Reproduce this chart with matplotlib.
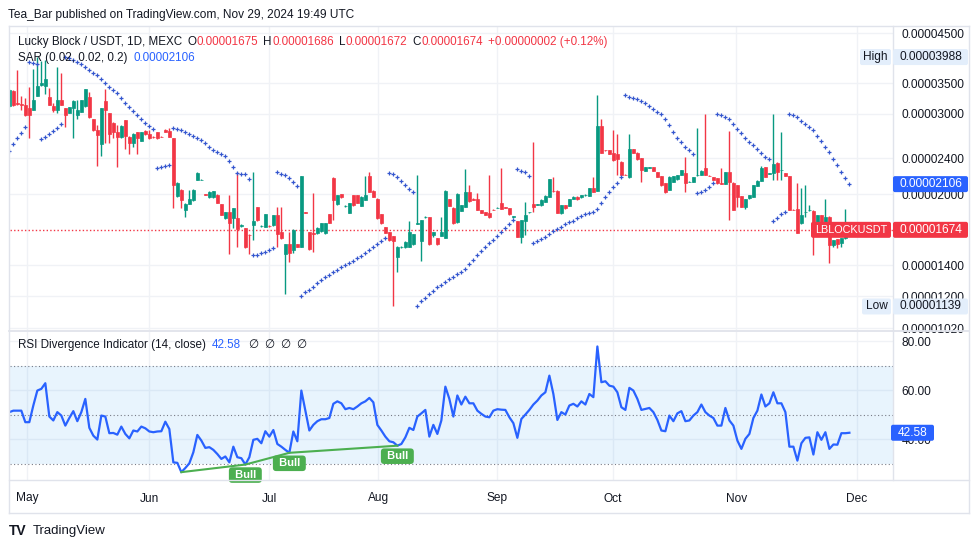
import numpy as np
import matplotlib
matplotlib.use("Agg")
import matplotlib.pyplot as plt
from matplotlib.patches import FancyBboxPatch
from matplotlib.lines import Line2D
from matplotlib.transforms import IdentityTransform
from matplotlib.ticker import NullLocator, NullFormatter

plt.rcParams['font.family'] = ['Liberation Sans', 'DejaVu Sans']

# ---------------- data (prices in micro-USDT, i.e. x 1e-6) ----------------
open_ = [
    31.2, 33.7, 31.6, 31.5, 31.4, 30.8, 30.56, 32.8, 34.6, 34.5,
    32.6, 31.2, 30.6, 32.1, 30.8, 30.15, 30.9, 29.8, 30.3, 31.2,
    32.7, 29.2, 27.7, 25.8, 32.0, 30.05, 28.7, 27.4, 26.7, 29.06,
    26.7, 25.85, 27.3, 26.2, 27.5, 27.1, 26.75, 27.3, 26.75, 27.7,
    27.5, 26.5, 19.8, 20.45, 18.5, 19.1, 19.4, 21.5, 21.5, 20.0,
    19.77, 19.7, 19.95, 19.05, 17.73, 18.33, 17.73, 17.73, 17.1, 16.86,
    16.35, 17.14, 18.8, 17.05, 17.0, 17.1, 17.15, 18.03, 16.58, 14.82,
    15.59, 15.12, 15.59, 15.38, 18.3, 16.52, 16.44, 16.44, 16.66, 16.44,
    18.12, 21.74, 19.03, 20.04, 18.85, 18.25, 19.93, 19.93, 18.9, 19.44,
    21.93, 20.34, 19.54, 18.12, 17.0, 16.58, 16.22, 14.58, 15.35, 15.33,
    15.36, 15.59, 17.25, 15.85, 17.85, 17.82, 16.3, 16.03, 16.25, 16.1,
    19.5, 18.7, 17.38, 18.43, 18.8, 20.2, 19.53, 19.54, 18.49, 18.33,
    18.18, 18.52, 18.68, 19.18, 18.74, 18.7, 17.85, 17.5, 16.17, 17.52,
    18.3, 19.05, 19.0, 18.96, 19.28, 19.77, 20.36, 20.34, 18.18, 18.96,
    18.9, 19.51, 19.77, 19.7, 19.9, 19.84, 20.62, 20.37, 28.2, 25.0,
    25.0, 24.66, 24.45, 23.57, 22.1, 21.79, 25.08, 24.66, 23.97, 22.54,
    22.88, 22.92, 22.35, 21.93, 21.14, 20.44, 21.32, 21.57, 22.05, 22.3,
    21.28, 21.32, 22.0, 22.05, 22.8, 21.97, 21.79, 21.68, 21.16, 21.07,
    22.35, 21.21, 20.96, 19.84, 18.8, 19.6, 19.77, 20.86, 21.43, 22.92,
    22.2, 22.23, 23.46, 22.58, 22.3, 21.93, 18.52, 18.55, 17.29, 18.3,
    18.46, 18.43, 17.29, 18.03, 17.29, 17.88, 15.51, 15.98, 15.64, 16.03,
    16.75]

high_ = [
    33.9, 33.8, 37.4, 32.8, 32.4, 34.3, 37.5, 39.88, 39.0, 39.3,
    34.1, 31.6, 38.0, 36.9, 30.8, 31.1, 32.1, 32.1, 32.2, 34.0,
    33.5, 29.2, 28.3, 30.8, 33.9, 30.1, 28.8, 28.3, 28.3, 29.1,
    26.8, 27.2, 27.3, 27.35, 27.6, 27.6, 26.8, 27.3, 26.8, 27.75,
    27.9, 26.5, 21.25, 20.5, 19.12, 20.44, 20.5, 22.35, 21.6, 20.05,
    20.3, 20.35, 20.0, 19.1, 18.35, 19.95, 18.7, 22.42, 17.2, 16.9,
    16.4, 22.42, 18.8, 17.15, 18.1, 17.15, 18.05, 18.8, 18.8, 15.6,
    16.58, 16.78, 15.6, 21.95, 18.35, 16.55, 20.11, 16.95, 17.3, 17.35,
    18.15, 21.85, 19.95, 20.05, 18.95, 19.15, 19.95, 19.95, 19.8, 21.93,
    22.42, 20.4, 19.6, 18.15, 17.0, 16.6, 16.25, 15.4, 15.42, 15.8,
    17.52, 16.4, 22.05, 17.6, 17.9, 17.85, 16.55, 16.05, 17.88, 20.4,
    19.55, 18.75, 20.1, 19.0, 22.68, 20.96, 19.6, 20.11, 18.5, 18.35,
    22.05, 18.55, 18.75, 22.8, 18.78, 18.72, 17.95, 17.52, 17.6, 19.28,
    18.35, 26.06, 19.05, 19.5, 19.9, 21.65, 21.86, 20.4, 19.0, 19.0,
    19.58, 19.8, 19.8, 19.95, 20.0, 20.65, 21.86, 32.95, 29.16, 25.05,
    25.05, 27.64, 27.1, 23.6, 22.15, 27.1, 25.1, 24.7, 24.0, 22.95,
    22.95, 22.95, 22.4, 21.95, 21.15, 21.9, 21.95, 22.1, 22.65, 24.09,
    21.35, 21.8, 27.87, 22.56, 29.95, 22.0, 21.8, 21.7, 22.8, 22.4,
    27.5, 21.25, 21.0, 19.86, 19.55, 19.95, 21.0, 21.45, 23.07, 22.95,
    22.25, 29.95, 23.48, 27.41, 22.32, 21.95, 18.55, 21.21, 20.62, 20.96,
    18.96, 18.45, 18.05, 18.05, 19.5, 17.9, 15.92, 16.0, 16.05, 18.55,
    16.86]

low_ = [
    31.1, 31.2, 31.4, 30.6, 29.6, 26.5, 30.5, 32.8, 34.5, 33.2,
    31.4, 30.2, 30.05, 31.3, 28.1, 30.1, 26.6, 29.2, 30.2, 31.1,
    29.4, 27.5, 23.1, 24.2, 25.85, 25.9, 26.5, 22.9, 26.6, 25.1,
    24.45, 25.4, 24.5, 26.1, 27.0, 26.45, 26.6, 26.4, 26.65, 27.35,
    26.65, 18.65, 19.75, 18.65, 17.88, 19.1, 19.35, 21.45, 21.45, 19.9,
    19.6, 19.65, 19.15, 18.0, 17.64, 14.82, 16.86, 15.38, 17.0, 15.25,
    14.82, 15.9, 17.52, 17.0, 17.0, 17.0, 17.1, 15.38, 15.95, 12.11,
    14.26, 14.87, 15.33, 15.35, 18.2, 15.12, 14.99, 16.4, 16.6, 16.4,
    17.29, 17.58, 19.0, 19.6, 18.8, 18.2, 18.9, 19.15, 18.85, 19.4,
    20.25, 19.7, 17.7, 17.25, 16.44, 15.85, 11.39, 13.56, 15.3, 15.3,
    15.33, 15.55, 17.2, 14.33, 17.8, 15.5, 16.17, 15.5, 16.2, 16.05,
    18.85, 17.25, 17.35, 18.4, 18.75, 19.3, 19.45, 18.45, 18.2, 18.0,
    17.8, 18.45, 18.65, 18.55, 18.68, 18.05, 17.8, 16.15, 15.69, 16.3,
    18.25, 18.33, 18.95, 18.9, 19.25, 19.75, 20.28, 18.2, 18.15, 18.6,
    18.85, 19.5, 19.48, 19.68, 19.85, 19.8, 20.25, 20.34, 24.6, 24.9,
    24.45, 23.7, 22.05, 22.0, 22.0, 21.75, 24.6, 23.8, 21.32, 22.5,
    22.85, 22.5, 21.8, 20.9, 20.18, 20.4, 21.3, 21.55, 22.0, 20.28,
    21.25, 21.3, 21.95, 22.0, 22.0, 21.9, 21.45, 21.1, 21.07, 21.05,
    17.58, 18.45, 18.8, 18.75, 18.55, 19.58, 19.75, 20.84, 21.4, 21.84,
    22.15, 21.5, 21.5, 21.5, 21.9, 18.45, 18.45, 16.45, 17.25, 17.88,
    18.4, 14.74, 17.25, 17.25, 17.25, 14.14, 15.33, 15.25, 15.33, 15.95,
    16.72]

close_ = [
    33.8, 31.3, 31.5, 31.35, 29.8, 29.8, 32.2, 34.5, 35.0, 35.8,
    31.4, 30.6, 32.1, 31.3, 29.8, 31.07, 31.9, 30.6, 32.1, 33.9,
    29.45, 27.6, 26.95, 30.8, 30.5, 27.1, 27.4, 26.7, 28.2, 26.8,
    25.85, 27.1, 26.5, 27.3, 27.1, 26.5, 26.7, 26.5, 26.7, 27.4,
    26.7, 20.95, 21.2, 19.44, 19.05, 19.5, 20.44, 22.3, 21.55, 19.95,
    20.2, 20.3, 19.2, 18.03, 18.33, 17.29, 18.65, 16.78, 17.15, 15.33,
    16.3, 17.5, 17.58, 17.1, 18.1, 17.05, 18.03, 16.4, 16.03, 15.59,
    14.87, 16.72, 15.38, 21.93, 18.25, 15.17, 16.38, 16.92, 17.29, 17.29,
    17.35, 19.44, 19.93, 19.7, 18.9, 19.12, 18.96, 19.2, 19.77, 19.93,
    20.28, 19.77, 17.73, 17.29, 16.5, 15.9, 15.85, 15.38, 15.38, 15.77,
    16.58, 16.38, 17.29, 17.58, 17.88, 15.56, 16.52, 15.56, 16.52, 20.34,
    18.9, 17.29, 20.04, 18.96, 20.28, 19.38, 19.48, 18.49, 18.24, 18.03,
    17.82, 18.49, 18.72, 18.58, 18.7, 18.09, 17.9, 16.17, 17.58, 18.03,
    18.33, 18.8, 19.03, 19.44, 19.84, 21.61, 20.3, 18.24, 18.96, 18.65,
    19.54, 19.77, 19.51, 19.93, 19.95, 20.62, 20.28, 28.2, 24.66, 24.95,
    24.5, 23.77, 23.85, 22.05, 22.05, 25.08, 24.66, 23.85, 22.61, 22.92,
    22.92, 22.54, 21.86, 20.96, 20.28, 21.86, 21.93, 22.05, 22.61, 21.21,
    21.32, 21.79, 22.05, 22.54, 22.05, 21.93, 21.5, 21.14, 21.12, 22.35,
    21.32, 18.49, 19.77, 18.8, 19.51, 19.93, 20.96, 21.43, 22.8, 21.86,
    22.23, 23.26, 22.42, 22.61, 21.93, 18.49, 18.49, 16.5, 18.03, 18.33,
    18.49, 17.29, 18.03, 17.29, 17.88, 15.51, 15.9, 15.59, 16.03, 16.75,
    16.74]

sar_ = [
    24.9, 25.8, 26.5, 27.2, 28.05, 38.9, 38.7, 38.5, 26.45, 26.66,
    27.1, 27.45, 27.9, 28.5, 39.88, 39.6, 39.29, 38.95, 38.5, 38.0,
    37.36, 36.75, 36.43, 35.66, 34.95, 34.36, 33.79, 33.23, 32.42, 31.73,
    31.0, 30.4, 29.8, 29.16, 28.67, 28.2, 27.74, 22.8, 22.9, 23.06,
    23.14, 27.95, 27.74, 27.64, 27.4, 27.1, 26.8, 26.5, 26.28, 25.85,
    25.4, 25.0, 24.8, 24.5, 24.25, 23.7, 23.0, 22.3, 22.2, 22.2,
    21.58, 14.75, 14.75, 14.87, 15.0, 15.12, 15.25, 22.35, 22.2, 22.1,
    21.7, 21.3, 20.9, 12.02, 12.23, 12.4, 12.57, 12.79, 13.01, 13.2,
    13.34, 13.52, 13.68, 13.86, 14.02, 14.19, 14.33, 14.5, 14.67, 14.87,
    15.12, 15.33, 15.59, 15.82, 16.1, 22.3, 22.2, 21.8, 21.42, 20.96,
    20.6, 20.26, 11.43, 11.7, 11.9, 12.1, 12.33, 12.57, 12.68, 12.87,
    13.05, 13.2, 13.39, 13.56, 13.72, 14.07, 14.38, 14.75, 15.07, 15.38,
    15.64, 15.9, 16.23, 16.53, 16.86, 17.21, 17.58, 22.7, 22.52, 22.35,
    21.98, 15.64, 15.82, 15.98, 16.17, 16.39, 16.66, 16.83, 17.0, 17.21,
    17.38, 17.52, 17.73, 17.94, 18.12, 18.24, 18.33, 18.55, 19.11, 19.7,
    20.25, 20.72, 21.22, 21.8, 32.95, 32.68, 32.5, 32.25, 31.9, 31.6,
    31.25, 30.7, 30.3, 29.9, 29.16, 28.3, 27.4, 26.6, 26.0, 25.44,
    25.0, 24.45, 20.1, 20.28, 20.44, 20.72, 21.14, 29.94, 29.74, 29.45,
    29.16, 28.45, 27.74, 27.2, 26.6, 26.07, 25.6, 25.08, 24.58, 24.17,
    23.86, 17.52, 17.78, 18.12, 18.33, 29.94, 29.74, 29.45, 28.95, 28.45,
    28.05, 27.6, 26.8, 26.15, 25.35, 24.73, 23.9, 23.18, 22.35, 21.77,
    21.06]

rsi_ = [
    51.0, 51.6, 51.6, 51.6, 46.9, 46.9, 53.7, 59.8, 60.5, 62.8,
    49.2, 47.6, 51.0, 49.6, 45.5, 48.6, 51.4, 47.3, 51.0, 56.4,
    44.6, 41.4, 39.8, 49.6, 49.2, 42.4, 42.5, 41.8, 45.1, 42.1,
    40.3, 43.5, 43.1, 45.1, 44.4, 43.1, 42.8, 43.1, 43.2, 47.1,
    44.1, 30.5, 30.3, 26.5, 28.2, 30.1, 34.6, 41.7, 39.4, 36.4,
    36.7, 35.6, 33.9, 31.9, 32.9, 30.5, 36.9, 32.6, 32.2, 29.6,
    32.6, 39.7, 40.1, 38.3, 43.2, 41.0, 43.7, 38.0, 36.9, 35.6,
    34.4, 43.1, 39.1, 59.8, 51.6, 43.5, 45.8, 47.3, 48.1, 48.1,
    48.6, 54.4, 55.4, 54.6, 52.2, 52.7, 52.2, 53.3, 54.6, 55.4,
    56.8, 55.0, 45.8, 43.5, 41.0, 39.1, 38.7, 37.3, 38.0, 40.7,
    44.6, 43.7, 49.2, 50.5, 51.9, 41.0, 45.8, 42.1, 47.6, 61.4,
    56.4, 49.2, 57.8, 54.1, 57.3, 54.6, 54.6, 51.6, 50.3, 49.2,
    48.9, 51.6, 52.2, 52.0, 51.9, 48.9, 46.5, 40.5, 48.2, 50.0,
    51.9, 54.1, 55.7, 57.8, 59.1, 65.9, 58.4, 47.8, 51.0, 50.0,
    53.7, 54.4, 53.3, 55.4, 54.1, 58.4, 57.1, 77.8, 63.2, 63.6,
    61.8, 61.4, 59.1, 53.0, 51.9, 60.9, 59.8, 56.4, 51.9, 52.3,
    52.7, 51.0, 47.8, 43.5, 43.2, 49.6, 47.3, 50.5, 51.4, 47.3,
    47.6, 49.6, 51.0, 54.1, 51.0, 49.6, 48.6, 45.5, 45.5, 52.7,
    47.6, 45.5, 39.4, 36.0, 40.1, 42.1, 48.6, 51.6, 58.2, 53.3,
    54.6, 59.1, 54.6, 54.6, 51.0, 36.9, 36.9, 31.2, 38.3, 40.5,
    40.7, 33.7, 42.8, 39.7, 42.8, 36.0, 37.8, 37.7, 42.4, 42.4,
    42.58]

div_pivots = [43, 59, 70, 97]          # bar indices of RSI bullish-divergence pivots
month_labels = ['May', 'Jun', 'Jul', 'Aug', 'Sep', 'Oct', 'Nov', 'Dec']
price_ticks = [45.0, 35.0, 30.0, 24.0, 20.0, 14.0, 12.0, 10.2]
rsi_ticks = [80, 60, 40]
last_close = 16.74
last_sar = 21.06
last_rsi = 42.58
period_high = 39.88
period_low = 11.39
hdr_o, hdr_h, hdr_l, hdr_c = '0.00001675', '0.00001686', '0.00001672', '0.00001674'
hdr_chg = '+0.00000002 (+0.12%)'

# ---------------- layout / style ----------------
month_pos = [4.4, 34.9, 64.9, 92.2, 121.9, 150.9, 181.7, 211.9]
W, H = 980, 549
UP, DN = '#089981', '#F23645'
BLUE = '#2962FF'
TXT = '#131722'
FRAME = '#E0E3EB'
GRID = '#F0F2F6'
U = 1e-6

fig = plt.figure(figsize=(W / 100, H / 100), dpi=100)
fig.patch.set_facecolor('white')


def fx(x):
    return x / W


def fy(y):
    return 1 - y / H


ax = fig.add_axes([fx(10), fy(330), (893 - 10) / W, (330 - 27) / H])
ax2 = fig.add_axes([fx(10), fy(480), (893 - 10) / W, (480 - 332) / H], sharex=ax)

o = np.array(open_) * U
h = np.array(high_) * U
l = np.array(low_) * U
c = np.array(close_) * U
sar = np.array(sar_) * U
rsi = np.array(rsi_)
idx = np.arange(len(o))

# ---------------- price pane ----------------
ax.set_yscale('log')
ax.set_ylim(10.12 * U, 46.38 * U)
ax.set_xlim(0.17, 220.9)
cols = np.where(c >= o, UP, DN)
ax.vlines(idx, l, h, colors=cols, lw=1.0, zorder=3)
ax.bar(idx, np.abs(c - o), bottom=np.minimum(o, c), width=0.62, color=cols,
       edgecolor=cols, linewidth=0.5, zorder=4)
ax.scatter(idx, sar, marker='+', s=6, color='#3557CF', linewidths=0.9, zorder=5)
ax.axhline(last_close * U, color=DN, lw=1.0, ls=(0, (1, 1.6)), zorder=2)

ax.set_xticks(month_pos)
ax.yaxis.tick_right()
ax.set_yticks([t * U for t in price_ticks])
ax.set_yticklabels([f"{t * U:.8f}" for t in price_ticks])
ax.yaxis.set_minor_locator(NullLocator())
ax.yaxis.set_minor_formatter(NullFormatter())
ax.tick_params(axis='y', length=0, pad=6, labelsize=8.6, labelcolor=TXT)
ax.tick_params(axis='x', length=0, labelbottom=False)
ax.grid(True, color=GRID, lw=1)
ax.set_axisbelow(True)
for s in ax.spines.values():
    s.set_visible(False)

# ---------------- RSI pane ----------------
ax2.set_ylim(23.3, 83.7)
ax2.axhspan(30, 70, color='#2196F3', alpha=0.1, lw=0, zorder=1)
for lv in (70, 50, 30):
    ax2.axhline(lv, color='#787B86', lw=0.8, ls=(0, (1, 2.2)), zorder=2)
ax2.plot(idx, rsi, color=BLUE, lw=1.6, zorder=4, solid_joinstyle='round')
piv = np.array(div_pivots)
ax2.plot(piv, rsi[piv], color='#4CAF50', lw=1.5, zorder=5)
for p in div_pivots[1:]:
    ax2.annotate(' Bull ', xy=(p, rsi[p]), xytext=(0, -10.5), textcoords='offset pixels',
                 ha='center', va='center', color='white', fontsize=8, fontweight='bold',
                 bbox=dict(boxstyle='round,pad=0.25,rounding_size=0.3', fc='#4CAF50', ec='none'),
                 annotation_clip=False, zorder=8)
ax2.yaxis.tick_right()
ax2.set_yticks(rsi_ticks)
ax2.set_yticklabels([f"{v:.2f}" for v in rsi_ticks])
ax2.tick_params(axis='y', length=0, pad=6, labelsize=8.6, labelcolor=TXT)
ax2.set_xticks(month_pos)
ax2.set_xticklabels(month_labels)
ax2.tick_params(axis='x', length=0, pad=9, labelsize=8.6, labelcolor=TXT)
ax2.grid(True, color=GRID, lw=1)
ax2.set_axisbelow(True)
for s in ax2.spines.values():
    s.set_visible(False)

# ---------------- frame lines ----------------
def fline(x0, y0, x1, y1, col=FRAME, lw=1.0):
    fig.add_artist(Line2D([fx(x0), fx(x1)], [fy(y0), fy(y1)], color=col, lw=lw,
                          transform=fig.transFigure, zorder=1))

fline(9, 26, 969, 26)
fline(9, 513, 969, 513)
fline(9, 26, 9, 513)
fline(969, 26, 969, 513)
fline(9, 331, 969, 331, lw=1.3)
fline(9, 480, 969, 480)
fline(893, 26, 893, 480)

# ---------------- axis value labels ----------------
def ybox(axis, value, text, fc, tc, x0, x1, hgt=16, size=8.6, weight='normal'):
    yd = axis.transData.transform((axis.get_xlim()[0], value))[1]
    p = FancyBboxPatch((x0, yd - hgt / 2), x1 - x0, hgt,
                       boxstyle="round,pad=0,rounding_size=2",
                       transform=IdentityTransform(), fc=fc, ec='none', zorder=20)
    fig.add_artist(p)
    fig.text((x0 + x1) / 2 / W, yd / H, text, ha='center', va='center', color=tc,
             fontsize=size, fontweight=weight, zorder=21)

LIGHT = '#E3EEFB'
ybox(ax, period_high * U, 'High', LIGHT, TXT, 860, 891)
ybox(ax, period_high * U, f"{period_high * U:.8f}", LIGHT, TXT, 893, 968)
ybox(ax, period_low * U, 'Low', LIGHT, TXT, 862, 891)
ybox(ax, period_low * U, f"{period_low * U:.8f}", LIGHT, TXT, 893, 968)
ybox(ax, last_sar * U, f"{last_sar * U:.8f}", BLUE, 'white', 893, 968)
ybox(ax, last_close * U, 'LBLOCKUSDT', DN, 'white', 811, 891, size=7.8)
ybox(ax, last_close * U, f"{last_close * U:.8f}", DN, 'white', 893, 968)
ybox(ax2, last_rsi, f"{last_rsi:.2f}", BLUE, 'white', 891, 934)

# ---------------- legends / titles ----------------
renderer = fig.canvas.get_renderer()


def seq_text(x_px, y_px, pieces, size=8.4):
    x = x_px
    for s, col, gap in pieces:
        t = fig.text(fx(x), fy(y_px), s, color=col, fontsize=size, ha='left', va='center',
                     zorder=22)
        x += t.get_window_extent(renderer).width + gap


fig.text(fx(8), fy(15), 'Tea_Bar published on TradingView.com, Nov 29, 2024 19:49 UTC',
         fontsize=8.6, color=TXT, ha='left', va='center')
seq_text(18, 42, [('Lucky Block / USDT, 1D, MEXC', TXT, 5),
                  ('O', TXT, 0.5), (hdr_o, DN, 5),
                  ('H', TXT, 0.5), (hdr_h, DN, 5),
                  ('L', TXT, 0.5), (hdr_l, DN, 5),
                  ('C', TXT, 0.5), (hdr_c, DN, 5),
                  (hdr_chg, DN, 0)])
seq_text(18, 58, [('SAR (0.02, 0.02, 0.2)', TXT, 6), (f"{last_sar * U:.8f}", BLUE, 0)])
seq_text(18, 345, [('RSI Divergence Indicator (14, close)', TXT, 6),
                   (f"{last_rsi:.2f}", BLUE, 7),
                   ('\u2205', TXT, 6), ('\u2205', TXT, 6), ('\u2205', TXT, 6), ('\u2205', TXT, 0)])

fig.text(fx(9), fy(531), 'TV', fontsize=10, fontweight='heavy', color=TXT, ha='left', va='center')
fig.text(fx(33), fy(531), 'TradingView', fontsize=9.5, color=TXT, ha='left', va='center')

fig.savefig('out.png', dpi=100, facecolor='white')
